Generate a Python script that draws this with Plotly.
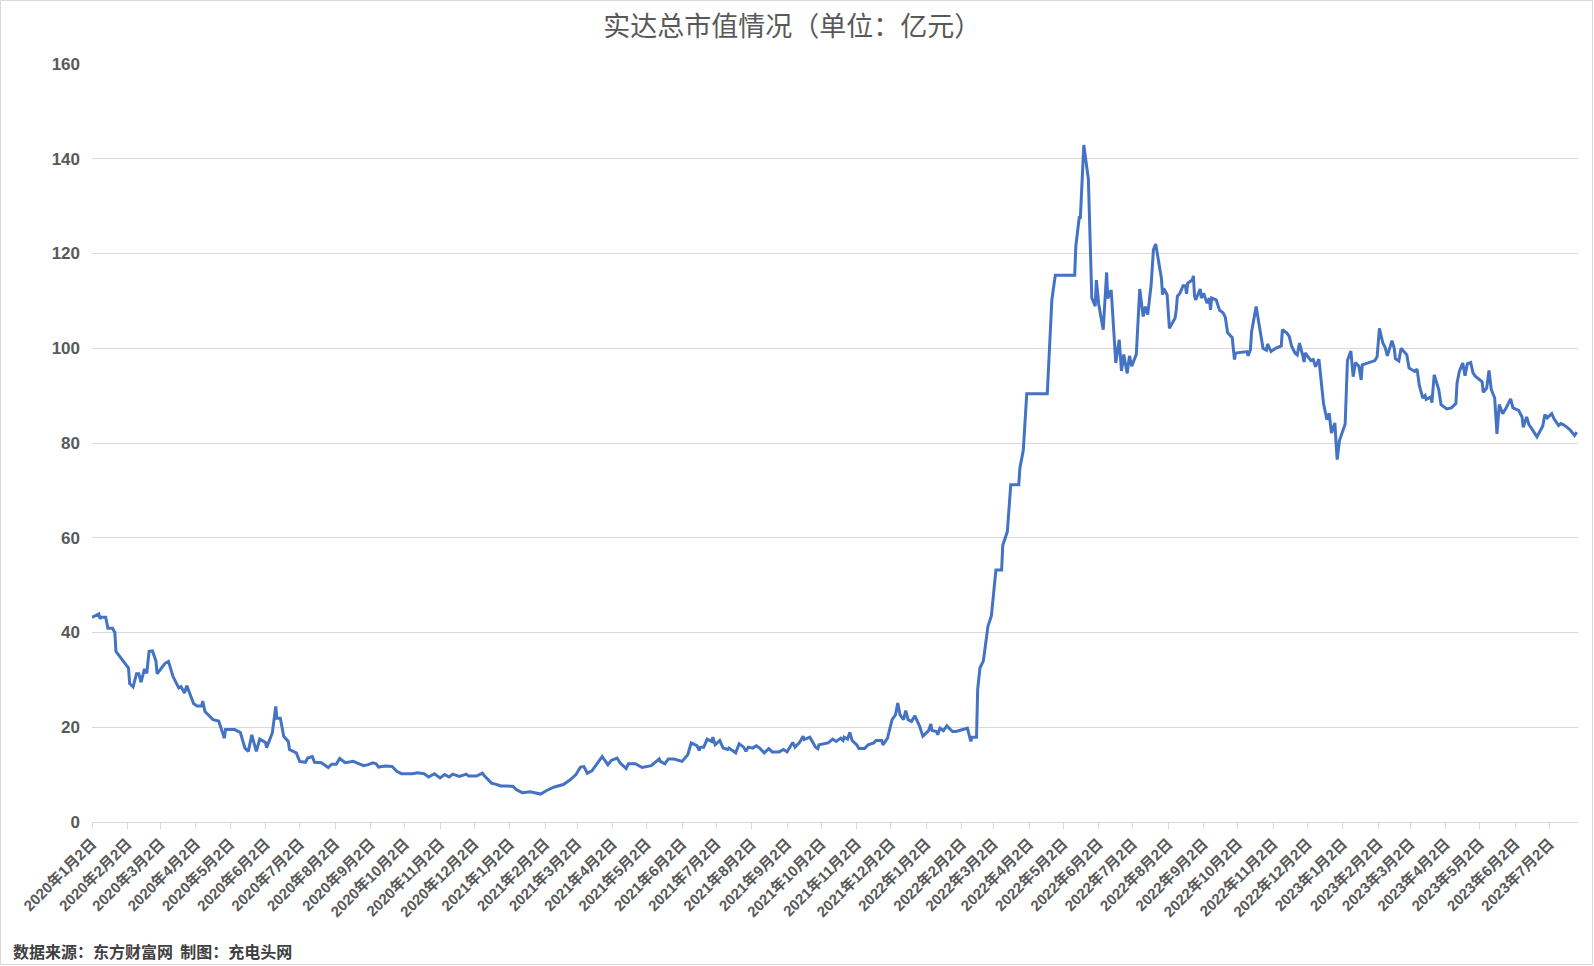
import plotly.graph_objects as go

# ---- data (date, total market value in 亿元) ----
dates_2020 = ["2020-01-02","2020-01-08","2020-01-09","2020-01-10","2020-01-14","2020-01-15","2020-01-16","2020-01-20","2020-01-22","2020-01-23",
              "2020-02-03","2020-02-04","2020-02-07","2020-02-10","2020-02-12","2020-02-14","2020-02-17","2020-02-19","2020-02-21","2020-02-24",
              "2020-02-27","2020-02-28","2020-03-02","2020-03-06","2020-03-09","2020-03-13","2020-03-18","2020-03-20","2020-03-23","2020-03-25",
              "2020-03-31","2020-04-03","2020-04-07","2020-04-08","2020-04-10","2020-04-14","2020-04-17","2020-04-22","2020-04-24","2020-04-27",
              "2020-04-28","2020-05-06","2020-05-11","2020-05-13","2020-05-15","2020-05-18","2020-05-21","2020-05-25","2020-05-28","2020-06-02",
              "2020-06-03","2020-06-08","2020-06-11","2020-06-12","2020-06-15","2020-06-18","2020-06-22","2020-06-23","2020-06-29","2020-07-02",
              "2020-07-07","2020-07-09","2020-07-13","2020-07-15","2020-07-21","2020-07-27","2020-07-30","2020-08-03","2020-08-06","2020-08-11",
              "2020-08-13","2020-08-18","2020-08-21","2020-08-27","2020-08-31","2020-09-04","2020-09-07","2020-09-09","2020-09-15","2020-09-21",
              "2020-09-25","2020-09-29","2020-10-09","2020-10-13","2020-10-19","2020-10-23","2020-10-28","2020-11-02","2020-11-06","2020-11-10",
              "2020-11-13","2020-11-19","2020-11-25","2020-11-27","2020-12-04","2020-12-09","2020-12-11","2020-12-17","2020-12-22","2020-12-25",
              "2020-12-30"]
mcap_2020 = [43.2,43.9,42.9,43.2,43.2,42.0,40.9,40.9,40.0,36.0,
             32.5,29.2,28.5,31.3,31.3,29.5,32.3,31.4,36.0,36.1,
             34.0,31.3,32.3,33.5,33.9,30.7,28.3,28.6,27.2,28.8,
             25.0,24.5,24.5,25.5,23.3,22.3,21.6,21.3,19.8,17.7,
             19.5,19.5,18.9,17.0,15.6,14.9,18.4,14.9,17.5,16.8,
             15.7,18.8,24.4,21.9,21.9,18.1,17.0,15.3,14.6,12.8,
             12.6,13.5,13.8,12.6,12.5,11.5,12.2,12.2,13.4,12.5,
             12.6,12.8,12.5,11.9,12.1,12.5,12.3,11.6,11.8,11.7,
             10.7,10.2,10.2,10.4,10.2,9.5,10.2,9.3,10.0,9.5,
             10.1,9.6,10.1,9.7,9.7,10.3,9.7,8.2,7.9,7.6,
             7.6]

dates_2021 = ["2021-01-05","2021-01-08","2021-01-13","2021-01-20","2021-01-26","2021-01-29","2021-02-03","2021-02-10","2021-02-18","2021-02-24",
              "2021-03-01","2021-03-05","2021-03-08","2021-03-11","2021-03-15","2021-03-19","2021-03-24","2021-03-29","2021-04-01","2021-04-06",
              "2021-04-09","2021-04-14","2021-04-16","2021-04-22","2021-04-28","2021-05-06","2021-05-10","2021-05-13","2021-05-14","2021-05-18",
              "2021-05-21","2021-05-26","2021-06-02","2021-06-07","2021-06-10","2021-06-15","2021-06-17","2021-06-18","2021-06-21","2021-06-24",
              "2021-06-28","2021-06-29","2021-07-01","2021-07-05","2021-07-08","2021-07-12","2021-07-13","2021-07-16","2021-07-19","2021-07-22",
              "2021-07-26","2021-07-28","2021-07-30","2021-08-03","2021-08-06","2021-08-09","2021-08-13","2021-08-17","2021-08-20","2021-08-26",
              "2021-08-30","2021-09-02","2021-09-06","2021-09-07","2021-09-09","2021-09-13","2021-09-16","2021-09-17","2021-09-22","2021-09-27",
              "2021-09-29","2021-09-30","2021-10-08","2021-10-12","2021-10-15","2021-10-19","2021-10-21","2021-10-22","2021-10-25","2021-10-27",
              "2021-10-29","2021-11-02","2021-11-04","2021-11-09","2021-11-12","2021-11-17","2021-11-19","2021-11-24","2021-11-25","2021-11-29",
              "2021-12-03","2021-12-06","2021-12-08","2021-12-10","2021-12-13","2021-12-15","2021-12-17","2021-12-20","2021-12-23","2021-12-27",
              "2021-12-30"]
mcap_2021 = [7.5,6.8,6.2,6.4,6.1,5.9,6.6,7.4,7.9,8.9,
             10.0,11.6,11.7,10.3,10.8,12.1,13.8,12.1,13.0,13.5,
             12.4,11.3,12.3,12.3,11.5,11.9,12.8,13.3,12.8,12.3,
             13.3,13.3,12.8,14.2,16.7,16.1,15.1,15.8,15.8,17.5,
             17.0,17.9,16.3,17.2,15.6,15.3,15.6,15.1,14.6,16.5,
             15.8,14.9,15.8,15.6,16.1,15.6,14.6,15.5,14.8,14.8,
             15.3,14.8,16.3,16.8,15.8,16.8,18.1,17.4,17.9,15.8,
             15.5,16.3,16.7,17.5,17.0,17.7,17.2,17.9,17.5,18.9,
             17.2,16.3,15.5,15.5,16.3,16.7,17.2,17.2,16.3,17.7,
             21.6,22.6,25.1,22.6,21.6,23.5,21.6,21.2,22.4,20.3,
             18.1]

dates_2022 = ["2022-01-04","2022-01-06","2022-01-07","2022-01-11","2022-01-12","2022-01-14","2022-01-17","2022-01-20","2022-01-25","2022-01-28",
              "2022-02-07","2022-02-10","2022-02-11","2022-02-15","2022-02-16","2022-02-18","2022-02-21","2022-02-25","2022-02-28","2022-03-04",
              "2022-03-09","2022-03-10","2022-03-14","2022-03-17","2022-03-24","2022-03-25","2022-03-28","2022-03-31","2022-04-18","2022-04-22",
              "2022-04-25","2022-05-12","2022-05-13","2022-05-16","2022-05-17","2022-05-20","2022-05-24","2022-05-27","2022-05-30","2022-05-31",
              "2022-06-02","2022-06-06","2022-06-09","2022-06-10","2022-06-13","2022-06-17","2022-06-20","2022-06-22","2022-06-24","2022-06-27",
              "2022-06-29","2022-07-01","2022-07-05","2022-07-08","2022-07-11","2022-07-13","2022-07-15","2022-07-18","2022-07-20","2022-07-22",
              "2022-07-25","2022-07-27","2022-07-28","2022-07-29","2022-08-01","2022-08-03","2022-08-08","2022-08-09","2022-08-10","2022-08-12",
              "2022-08-15","2022-08-17","2022-08-18","2022-08-19","2022-08-23","2022-08-24","2022-08-25","2022-08-26","2022-08-30","2022-08-31",
              "2022-09-02","2022-09-05","2022-09-07","2022-09-08","2022-09-09","2022-09-13","2022-09-16","2022-09-19","2022-09-21","2022-09-23",
              "2022-09-26","2022-09-27","2022-09-29","2022-09-30","2022-10-10","2022-10-11","2022-10-13","2022-10-14","2022-10-18","2022-10-20",
              "2022-10-21","2022-10-24","2022-10-27","2022-10-28","2022-10-31","2022-11-04","2022-11-09","2022-11-10","2022-11-14","2022-11-16",
              "2022-11-18","2022-11-21","2022-11-23","2022-11-25","2022-11-28","2022-11-29","2022-11-30","2022-12-05","2022-12-07","2022-12-09",
              "2022-12-12","2022-12-14","2022-12-16","2022-12-19","2022-12-21","2022-12-23","2022-12-26","2022-12-27","2022-12-28","2022-12-30"]
mcap_2022 = [19.3,20.7,19.3,19.1,18.4,19.8,19.3,20.3,19.1,19.1,
             19.8,17.0,17.9,17.9,28.0,32.5,34.0,41.3,43.5,53.2,
             53.2,58.4,61.3,71.2,71.2,74.7,78.5,90.4,90.4,110.2,
             115.4,115.4,121.5,127.6,127.6,142.9,135.7,110.6,108.9,114.4,
             109.4,103.9,116.0,110.5,112.3,96.9,101.8,95.2,98.7,94.7,
             98.4,96.2,98.7,112.5,106.7,108.8,107.1,113.4,120.8,122.0,
             117.2,114.8,111.3,112.6,111.3,104.2,106.4,108.1,111.0,111.5,
             113.2,113.2,111.5,113.7,114.4,115.3,111.1,110.2,112.5,110.6,
             111.6,109.5,110.6,108.1,110.6,110.2,108.0,107.5,106.5,103.3,
             102.5,102.3,97.6,99.0,99.3,98.4,99.7,103.5,108.8,106.0,
             104.6,100.0,99.6,100.9,99.3,100.0,100.5,103.9,103.2,102.5,
             100.5,99.0,98.6,101.1,98.3,97.1,99.0,97.4,97.6,96.1,
             97.7,93.3,88.4,84.9,86.3,82.1,84.2,80.1,76.5,80.5]

dates_2023 = ["2023-01-04","2023-01-06","2023-01-09","2023-01-11","2023-01-13","2023-01-16","2023-01-18","2023-01-19","2023-01-30","2023-01-31",
              "2023-02-01","2023-02-03","2023-02-06","2023-02-08","2023-02-10","2023-02-14","2023-02-16","2023-02-17","2023-02-20","2023-02-22",
              "2023-02-24","2023-02-27","2023-03-01","2023-03-06","2023-03-08","2023-03-09","2023-03-10","2023-03-13","2023-03-15","2023-03-16",
              "2023-03-20","2023-03-21","2023-03-23","2023-03-27","2023-03-28","2023-03-29","2023-04-03","2023-04-06","2023-04-07","2023-04-11",
              "2023-04-12","2023-04-14","2023-04-17","2023-04-19","2023-04-21","2023-04-24","2023-04-26","2023-04-28","2023-05-04","2023-05-05",
              "2023-05-08","2023-05-10","2023-05-12","2023-05-15","2023-05-17","2023-05-19","2023-05-22","2023-05-25","2023-05-29","2023-05-31",
              "2023-06-05","2023-06-08","2023-06-09","2023-06-12","2023-06-14","2023-06-16","2023-06-21","2023-06-26","2023-06-28","2023-06-30",
              "2023-07-04","2023-07-06","2023-07-10","2023-07-12","2023-07-14","2023-07-17","2023-07-20","2023-07-24","2023-07-26"]
mcap_2023 = [84.0,97.4,99.4,94.0,97.0,96.2,93.3,96.5,97.4,97.8,
             98.2,104.2,101.1,100.2,98.4,101.6,100.0,97.8,97.3,100.0,
             99.5,98.6,95.8,95.1,95.6,93.0,92.1,89.5,90.0,89.2,
             89.7,88.5,94.4,91.3,89.9,88.1,87.2,87.4,87.4,88.3,
             92.6,95.1,96.9,94.2,96.7,97.0,94.8,94.1,92.9,90.7,
             91.6,95.3,91.3,89.5,81.9,88.1,86.2,87.4,89.3,87.4,
             86.9,85.5,83.3,85.5,83.9,83.2,81.3,83.5,86.0,85.3,
             86.2,85.1,83.7,84.1,83.9,83.4,82.8,81.6,82.3]

y_ticks = [0, 20, 40, 60, 80, 100, 120, 140, 160]
x_range = ["2020-01-02", "2023-07-27"]

title_text = "实达总市值情况（单位：亿元）"
source_text = "数据来源：东方财富网  制图：充电头网"

dates = dates_2020 + dates_2021 + dates_2022 + dates_2023
mcap = mcap_2020 + mcap_2021 + mcap_2022 + mcap_2023

W, H = 1594, 966
ML, MR, MT, MB = 92, 16, 64, 144
PW, PH = W - ML - MR, H - MT - MB

def px_x(px):
    return (px - ML) / PW

def px_y(py):
    return (H - MB - py) / PH

fig = go.Figure()
fig.add_trace(go.Scatter(
    x=dates, y=mcap, mode="lines",
    line=dict(color="#4472C4", width=3),
    hoverinfo="x+y", showlegend=False,
))

tick_font = dict(family="Liberation Sans, Noto Sans CJK SC, sans-serif", size=15, color="#595959", weight="bold")

fig.update_layout(
    width=W, height=H,
    margin=dict(l=ML, r=MR, t=MT, b=MB, pad=0),
    paper_bgcolor="white", plot_bgcolor="white",
    title=dict(text=title_text, x=0.497, xanchor="center", xref="container",
               y=1 - 27 / H, yanchor="middle", yref="container",
               font=dict(family="Noto Sans CJK SC", size=27, color="#595959")),
    xaxis=dict(type="date", range=x_range, tick0="2020-01-02", dtick="M1",
               tickformat="%Y年%-m月%-d日", tickangle=-45,
               ticks="outside", ticklen=6, tickcolor="#d9d9d9", tickwidth=1,
               showline=True, linecolor="#d9d9d9", linewidth=1,
               showgrid=False, zeroline=False, tickfont=tick_font),
    yaxis=dict(range=[0, 160], tickvals=y_ticks, showgrid=True, gridcolor="#d9d9d9", gridwidth=1,
               zeroline=False, showline=False, ticks="", ticklabelstandoff=11,
               tickfont=dict(family="Liberation Sans, sans-serif", size=17, color="#595959", weight="bold")),
    shapes=[dict(type="rect", xref="paper", yref="paper",
                 x0=px_x(0.5), x1=px_x(W - 1.5), y0=px_y(H - 1.5), y1=px_y(0.5),
                 line=dict(color="#d9d9d9", width=1), fillcolor="rgba(0,0,0,0)", layer="below")],
    annotations=[dict(text=source_text, xref="paper", yref="paper",
                      x=px_x(11), y=px_y(951), xanchor="left", yanchor="middle", showarrow=False,
                      font=dict(family="Noto Sans CJK SC", size=16, color="#404040", weight="bold"))],
)

fig.write_html("out.html", config={"displayModeBar": False},
               post_script="document.body.style.margin='0';document.body.style.overflow='hidden';")
